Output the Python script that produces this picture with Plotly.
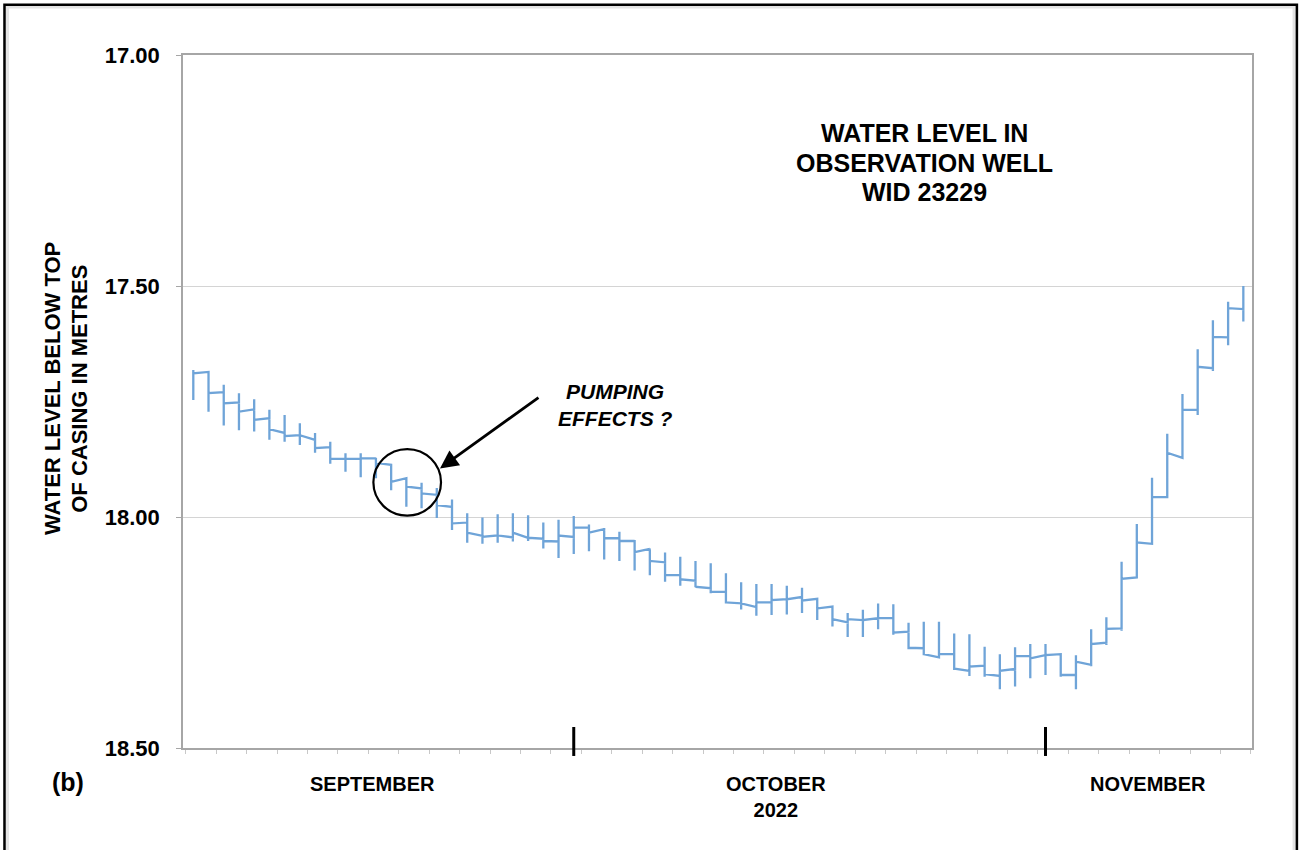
import pandas as pd
import plotly.graph_objects as go

# Daily readings, 6 Sep – 14 Nov 2022 (metres below top of casing)
first_day = "2022-09-06"
n_days = 70

# daily range: shallowest and deepest reading
day_high = [17.682, 17.686, 17.714, 17.732, 17.745, 17.768, 17.779, 17.797, 17.818, 17.837,
            17.862, 17.862, 17.872, 17.887, 17.916, 17.926, 17.937, 17.962, 17.992, 18.001,
            17.994, 17.992, 17.996, 18.012, 18.006, 17.998, 18.016, 18.024, 18.032, 18.050,
            18.068, 18.077, 18.086, 18.095, 18.100, 18.122, 18.141, 18.145, 18.145, 18.149,
            18.153, 18.177, 18.194, 18.208, 18.201, 18.187, 18.189, 18.229, 18.227, 18.227,
            18.252, 18.254, 18.281, 18.297, 18.282, 18.275, 18.275, 18.297, 18.299, 18.243,
            18.217, 18.097, 18.015, 17.915, 17.820, 17.734, 17.637, 17.574, 17.534, 17.500]
day_low = [17.747, 17.772, 17.802, 17.812, 17.815, 17.833, 17.837, 17.844, 17.861, 17.885,
           17.902, 17.914, 17.916, 17.942, 17.978, 17.981, 18.002, 18.028, 18.056, 18.058,
           18.056, 18.053, 18.052, 18.068, 18.089, 18.080, 18.074, 18.092, 18.095, 18.116,
           18.126, 18.140, 18.149, 18.152, 18.165, 18.187, 18.200, 18.214, 18.212, 18.211,
           18.208, 18.223, 18.237, 18.260, 18.260, 18.243, 18.255, 18.286, 18.299, 18.304,
           18.331, 18.344, 18.346, 18.373, 18.367, 18.349, 18.342, 18.346, 18.373, 18.323,
           18.277, 18.246, 18.131, 18.058, 17.957, 17.872, 17.779, 17.684, 17.628, 17.577]
# level at the start and end of each day's trace
day_open = [17.689, 17.732, 17.754, 17.772, 17.790, 17.810, 17.825, 17.823, 17.851, 17.874,
            17.874, 17.873, 17.883, 17.924, 17.934, 17.949, 17.974, 18.014, 18.034, 18.043,
            18.040, 18.034, 18.045, 18.052, 18.040, 18.023, 18.034, 18.046, 18.052, 18.076,
            18.095, 18.126, 18.135, 18.151, 18.162, 18.185, 18.187, 18.185, 18.180, 18.178,
            18.181, 18.198, 18.221, 18.221, 18.223, 18.219, 18.250, 18.283, 18.297, 18.297,
            18.328, 18.324, 18.340, 18.333, 18.301, 18.306, 18.299, 18.342, 18.313, 18.275,
            18.242, 18.134, 18.055, 17.957, 17.861, 17.768, 17.675, 17.610, 17.548, 17.500]
day_close = [17.686, 17.730, 17.752, 17.767, 17.786, 17.818, 17.823, 17.833, 17.849, 17.874,
             17.874, 17.873, 17.887, 17.916, 17.938, 17.952, 17.978, 18.012, 18.041, 18.040,
             18.044, 18.045, 18.047, 18.053, 18.043, 18.023, 18.026, 18.046, 18.052, 18.069,
             18.098, 18.126, 18.138, 18.154, 18.162, 18.187, 18.195, 18.185, 18.178, 18.173,
             18.177, 18.194, 18.228, 18.223, 18.219, 18.219, 18.248, 18.284, 18.304, 18.297,
             18.333, 18.322, 18.344, 18.329, 18.301, 18.299, 18.297, 18.342, 18.320, 18.272,
             18.241, 18.131, 18.058, 17.957, 17.872, 17.768, 17.678, 17.611, 17.550, None]

y_ticks = [17.00, 17.50, 18.00, 18.50]
month_starts = ["2022-10-01", "2022-11-01"]
month_labels = ["SEPTEMBER", "OCTOBER<br>2022", "NOVEMBER"]
month_label_x = [0.1777, 0.5547, 0.9024]

days = pd.date_range(first_day, periods=n_days, freq="D")
one_day = pd.Timedelta(days=1)

# one continuous trace: daily vertical range, then the level through the day
xs, ys = [], []
for i, d in enumerate(days):
    xs += [d, d, d]
    ys += [day_high[i], day_low[i], day_open[i]]
    if day_close[i] is not None:
        xs.append(d + one_day)
        ys.append(day_close[i])

FONT = "Liberation Sans, Arial, sans-serif"
BLUE = "#6FA4D8"

fig = go.Figure()
fig.add_trace(go.Scatter(x=xs, y=ys, mode="lines",
                         line=dict(color=BLUE, width=2.3), hoverinfo="skip",
                         showlegend=False))

fig.update_layout(
    width=1299, height=850,
    margin=dict(l=183, r=47, t=55, b=102),
    paper_bgcolor="white", plot_bgcolor="white",
    font=dict(family=FONT, color="black"),
    showlegend=False,
)

fig.update_xaxes(
    type="date",
    range=["2022-09-05 07:45", "2022-11-14 13:40"],
    showgrid=False, zeroline=False,
    showline=True, linecolor="#a6a6a6", linewidth=1.5, mirror=True,
    ticks="outside", ticklen=4, tickcolor="#c8c8c8", tickwidth=1,
    tick0="2022-09-05 12:00", dtick=2 * 86400000,
    showticklabels=False,
)
fig.update_yaxes(
    range=[18.5, 17.0],
    tickvals=y_ticks, ticktext=[f"{v:.2f}" for v in y_ticks],
    tickfont=dict(size=22, family=FONT, weight="bold", color="black"),
    ticks="outside", ticklen=5, tickcolor="#a6a6a6",
    ticklabelstandoff=12,
    showgrid=True, gridcolor="#d4d4d4", gridwidth=1.2, zeroline=False,
    showline=True, linecolor="#a6a6a6", linewidth=1.5, mirror=True,
)

# heavy month-boundary ticks
for m in month_starts:
    fig.add_shape(type="line", xref="x", yref="paper", x0=m, x1=m,
                  y0=0.0303, y1=-0.0115, line=dict(color="black", width=3))

# outer frame
fig.add_shape(type="rect", xref="paper", yref="paper",
              x0=-0.1646, x1=1.0398, y0=1.0700, y1=-0.3,
              line=dict(color="#e4e4e4", width=4), layer="below")
fig.add_shape(type="rect", xref="paper", yref="paper",
              x0=-0.1670, x1=1.0420, y0=1.0725, y1=-0.3,
              line=dict(color="black", width=2.5))

# month labels
for lab, xp in zip(month_labels, month_label_x):
    fig.add_annotation(text=lab, xref="paper", yref="paper", x=xp, y=-0.0325,
                       xanchor="center", yanchor="top", showarrow=False,
                       font=dict(size=20, family=FONT, weight="bold"))

fig.add_annotation(text="(b)", xref="paper", yref="paper", x=-0.1076, y=-0.049,
                   xanchor="center", yanchor="middle", showarrow=False,
                   font=dict(size=25, family=FONT, weight="bold"))

# y-axis title, two rotated lines
for txt, xp in [("WATER LEVEL BELOW TOP", -0.1220), ("OF CASING IN METRES", -0.0970)]:
    fig.add_annotation(text=txt, xref="paper", yref="paper", x=xp, y=0.5188,
                       textangle=-90, xanchor="center", yanchor="middle",
                       showarrow=False,
                       font=dict(size=22, family=FONT, weight="bold"))

# chart title
for txt, ypx in [("WATER LEVEL IN", 133), ("OBSERVATION WELL", 163), ("WID 23229", 192)]:
    fig.add_annotation(text=txt, xref="paper", yref="paper", x=(924 - 183) / 1069,
                       y=(748 - ypx) / 693, xanchor="center", yanchor="middle",
                       showarrow=False,
                       font=dict(size=25, family=FONT, weight="bold"))

# pumping-effects callout
fig.add_shape(type="circle", xref="x", yref="y",
              x0="2022-09-17 20:00", x1="2022-09-22 06:40", y0=17.853, y1=17.997,
              line=dict(color="black", width=2.2))
fig.add_annotation(x="2022-09-22 05:00", y=17.895, xref="x", yref="y",
                   ax=100, ay=-72, axref="pixel", ayref="pixel",
                   text="", showarrow=True, arrowhead=2, arrowsize=1.3,
                   arrowwidth=2.8, arrowcolor="black")
for txt, ypx in [("PUMPING", 391.7), ("EFFECTS ?", 418.3)]:
    fig.add_annotation(text=txt, xref="paper", yref="paper", x=(615 - 183) / 1069,
                       y=(748 - ypx) / 693, xanchor="center", yanchor="middle",
                       showarrow=False,
                       font=dict(size=21, family=FONT, weight="bold", style="italic"))

fig.write_html("out.html")
